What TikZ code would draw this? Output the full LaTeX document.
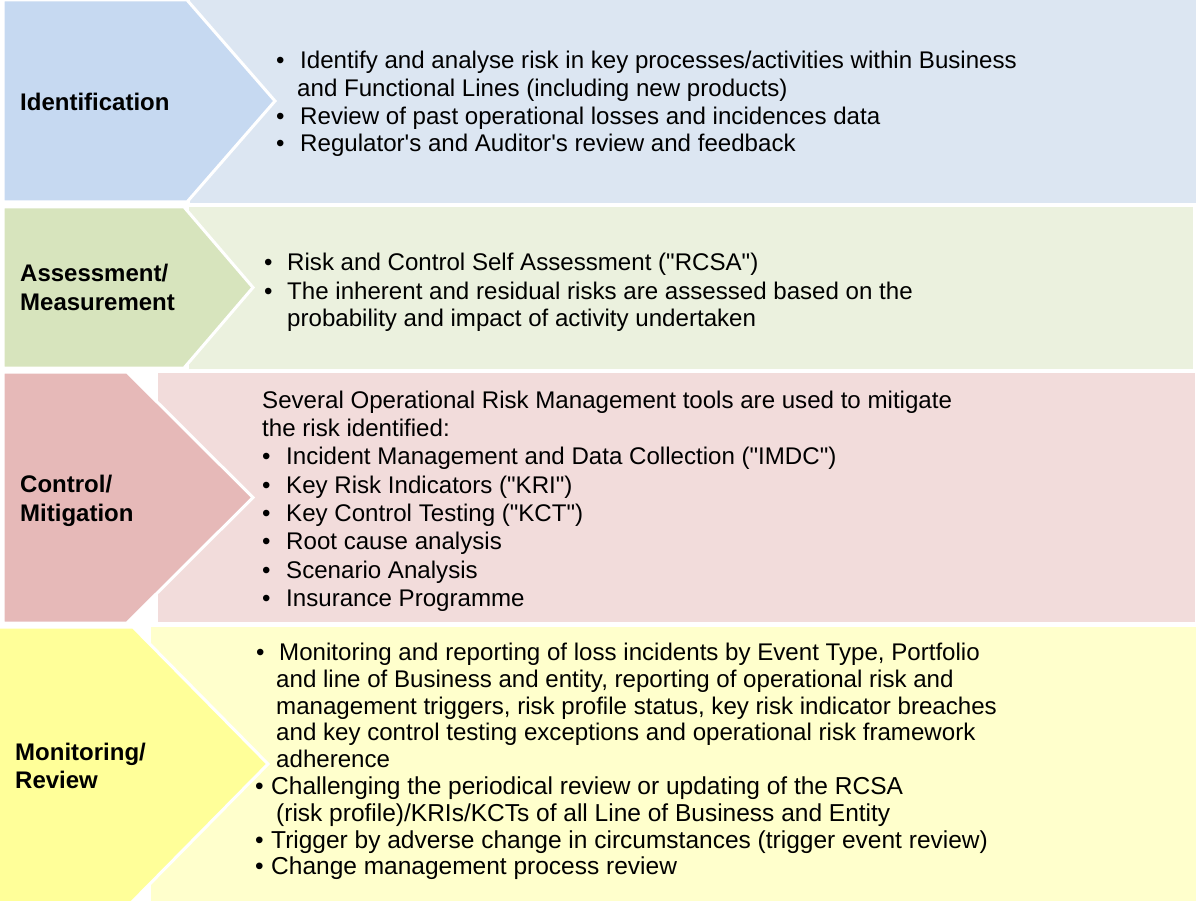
\documentclass[tikz,border=0pt]{standalone}
\usepackage{fontspec}
\setmainfont{Liberation Sans}
\newfontfamily\bodyfont{Liberation Sans}
\definecolor{chA}{HTML}{C6D9F1}\definecolor{bxA}{HTML}{DCE6F2}
\definecolor{chB}{HTML}{D7E4BD}\definecolor{bxB}{HTML}{EBF1DE}
\definecolor{chC}{HTML}{E6B9B8}\definecolor{bxC}{HTML}{F2DCDB}
\definecolor{chD}{HTML}{FFFF99}\definecolor{bxD}{HTML}{FFFFCC}
\tikzset{
  chev/.style={draw=white,line width=3pt,line join=miter},
  lbl/.style={anchor=base west,inner sep=0pt,font=\bfseries\fontsize{24}{28}\selectfont},
  txt/.style={anchor=base west,inner sep=0pt,font=\bodyfont\fontsize{24.1}{28}\selectfont},
  txtb/.style={anchor=base west,inner sep=0pt,font=\bodyfont\fontsize{24.5}{28}\selectfont},
}
\begin{document}
\begin{tikzpicture}[x=1pt,y=-1pt]
\useasboundingbox (0,0) rectangle (1196,901);
% row 1
\fill[bxA] (190,0) rectangle (1196,203);
\filldraw[chev,fill=chA] (3,0) -- (187,0) -- (275,101) -- (187,202) -- (3,202) -- cycle;
% row 2
\fill[bxB] (189,207) rectangle (1193,369);
\filldraw[chev,fill=chB] (3,207) -- (184,207) -- (253,287.5) -- (184,368) -- (3,368) -- cycle;
% row 3
\fill[bxC] (158,373) rectangle (1195,622);
\filldraw[chev,fill=chC] (3,372) -- (127,372) -- (253,497.5) -- (127,623) -- (3,623) -- cycle;
% row 4
\fill[bxD] (151,627) rectangle (1196,901);
\filldraw[chev,fill=chD] (-2,627) -- (133,627) -- (268,764) -- (131,903) -- (-2,903) -- cycle;
% labels
\node[lbl] (l1) at (20,111) {Identification};
\node[lbl] (l2a) at (20,282) {Assessment/};
\node[lbl] (l2b) at (20,310) {Measurement};
\node[lbl] (l3a) at (20,492) {Control/};
\node[lbl] (l3b) at (20,521) {Mitigation};
\node[lbl] (l4a) at (15,760) {Monitoring/};
\node[lbl] (l4b) at (15,788) {Review};
% row 1 text
\node[txt] (b1a) at (276,69) {\textbullet};
\node[txt] (t1a) at (300,69) {Identify and analyse risk in key processes/activities within Business};
\node[txt] (t1b) at (297,97) {and Functional Lines (including new products)};
\node[txt] (b1c) at (276,125) {\textbullet};
\node[txt] (t1c) at (300,125) {Review of past operational losses and incidences data};
\node[txt] (b1d) at (276,152) {\textbullet};
\node[txt] (t1d) at (300,152) {Regulator's and Auditor's review and feedback};
% row 2 text
\node[txt] (b2a) at (264,271) {\textbullet};
\node[txt] (t2a) at (287,271) {Risk and Control Self Assessment ("RCSA")};
\node[txt] (b2b) at (264,299) {\textbullet};
\node[txt] (t2b) at (287,299) {The inherent and residual risks are assessed based on the};
\node[txt] (t2c) at (287,326) {probability and impact of activity undertaken};
% row 3 text
\node[txt] (t3a) at (262,408) {Several Operational Risk Management tools are used to mitigate};
\node[txt] (t3b) at (262,436) {the risk identified:};
\node[txt] (b3c) at (262,464) {\textbullet};
\node[txt] (t3c) at (286,464) {Incident Management and Data Collection ("IMDC")};
\node[txt] (b3d) at (262,493) {\textbullet};
\node[txt] (t3d) at (286,493) {Key Risk Indicators ("KRI")};
\node[txt] (b3e) at (262,521) {\textbullet};
\node[txt] (t3e) at (286,521) {Key Control Testing ("KCT")};
\node[txt] (b3f) at (262,549) {\textbullet};
\node[txt] (t3f) at (286,549) {Root cause analysis};
\node[txt] (b3g) at (262,578) {\textbullet};
\node[txt] (t3g) at (286,578) {Scenario Analysis};
\node[txt] (b3h) at (262,606) {\textbullet};
\node[txt] (t3h) at (286,606) {Insurance Programme};
% row 4 text
\node[txt] (b4a) at (256,660) {\textbullet};
\node[txt] (t4a) at (279,660) {Monitoring and reporting of loss incidents by Event Type, Portfolio};
\node[txt] (t4b) at (276,687) {and line of Business and entity, reporting of operational risk and};
\node[txt] (t4c) at (276,714) {management triggers, risk profile status, key risk indicator breaches};
\node[txt] (t4d) at (276,740) {and key control testing exceptions and operational risk framework};
\node[txt] (t4e) at (276,767) {adherence};
\node[txtb] (b4f) at (255,794) {\textbullet};
\node[txtb] (t4f) at (271,794) {Challenging the periodical review or updating of the RCSA};
\node[txtb] (t4g) at (276,821) {(risk profile)/KRIs/KCTs of all Line of Business and Entity};
\node[txtb] (b4h) at (255,848) {\textbullet};
\node[txtb] (t4h) at (271,848) {Trigger by adverse change in circumstances (trigger event review)};
\node[txtb] (b4i) at (255,874) {\textbullet};
\node[txtb] (t4i) at (271,874) {Change management process review};
\end{tikzpicture}
\end{document}
